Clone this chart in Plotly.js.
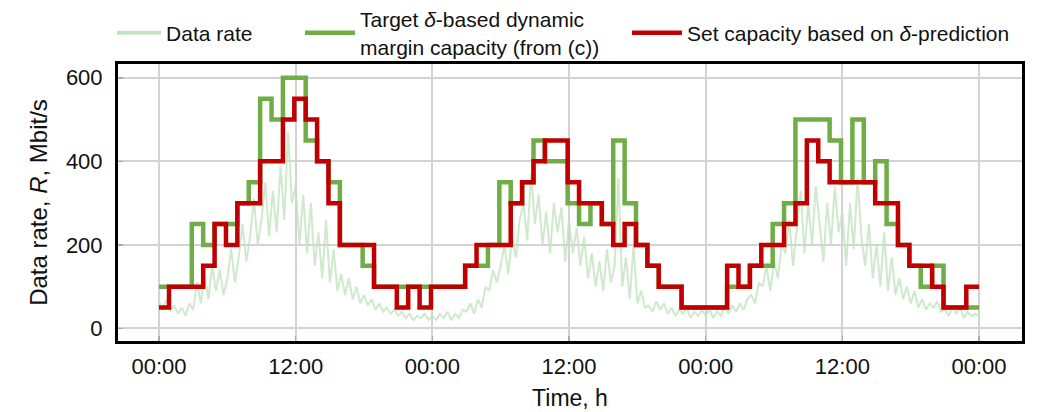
<!DOCTYPE html>
<html>
<head>
<meta charset="utf-8">
<script src="https://cdn.plot.ly/plotly-3.0.1.min.js"></script>
<style>html,body{margin:0;padding:0;background:#fff}#chart{width:1038px;height:412px}</style>
</head>
<body>
<div id="chart"></div>
<script>
// Hour index of each capacity step (72 hourly steps over 3 days)
const hours = [];
for (let h = 0; h < 72; h++) hours.push(h);

// Set capacity based on delta-prediction (Mbit/s), one value per hour
const setCapacity = [
  50,100,100,100,150,250,200,300,300,400,400,500,550,500,400,300,200,200,200,100,100,50,100,50,
  100,100,100,150,200,200,200,300,350,400,450,450,350,300,300,250,200,250,200,150,100,100,50,50,
  50,50,150,100,150,200,200,250,300,450,400,350,350,350,350,300,300,200,150,150,100,50,50,100
];

// Target delta-based dynamic margin capacity (Mbit/s), one value per hour
const targetCapacity = [
  100,100,100,250,200,250,250,300,350,550,500,600,600,450,400,350,200,200,150,100,100,100,100,100,
  100,100,100,150,150,200,350,300,350,450,400,400,300,250,300,250,450,300,200,150,100,100,50,50,
  50,50,100,100,150,150,250,300,500,500,500,450,350,500,350,400,250,200,150,100,150,50,50,50
];

// Measured data rate (Mbit/s), three samples per hour
const dataRate = [
  65,45,70, 40,55,35, 50,30,60, 45,110,60, 130,70,150, 90,140,80, 120,190,110, 170,250,160,
  220,310,200, 260,350,220, 330,230,390, 260,470,300, 340,200,320, 180,300,150, 230,120,260, 110,190,90,
  130,80,120, 70,100,60, 80,55,70, 45,60,40, 50,35,45, 30,40,25, 35,20,30, 25,35,20,
  30,20,35, 25,40,20, 35,25,45, 40,60,35, 70,50,100, 90,140,110, 150,200,130, 220,170,260,
  300,210,370, 250,320,200, 280,180,300, 230,290,160, 260,180,240, 150,220,120, 180,100,160, 90,190,110,
  150,360,100, 170,70,200, 60,90,50, 55,40,65, 45,60,35, 50,30,45, 35,50,25, 40,30,45,
  30,45,25, 40,30,50, 35,55,40, 60,45,70, 80,60,110, 100,150,90, 160,120,200, 180,260,150,
  240,330,180, 300,200,340, 250,160,300, 200,340,230, 280,150,300, 190,360,220, 150,250,120, 200,100,230,
  90,170,80, 120,70,100, 60,90,50, 70,45,60, 50,65,40, 45,30,55, 35,50,25, 40,30,35, 30
];
const samplesPerHour = 3;

const tickHours = [0, 12, 24, 36, 48, 60, 72];
const tickLabels = ["00:00", "12:00", "00:00", "12:00", "00:00", "12:00", "00:00"];

const legendNames = [
  "Data rate",
  "Target <i>δ</i>-based dynamic<br>margin capacity (from (c))",
  "Set capacity based on <i>δ</i>-prediction"
];

// step change times (the steps switch slightly before each full hour)
const stepOffset = 0.12;
const stepX = hours.map(h => h === 0 ? 0 : h - stepOffset).concat([72]);
const setY = setCapacity.concat([setCapacity[setCapacity.length - 1]]);
const tgtY = targetCapacity.concat([targetCapacity[targetCapacity.length - 1]]);
const rateX = dataRate.map((v, i) => i / samplesPerHour);

const rateColor = 'rgba(195,228,192,0.8)';
const traces = [
  {x: rateX, y: dataRate, type: 'scatter', mode: 'lines', name: legendNames[0], showlegend: false,
   line: {color: rateColor, width: 2}},
  // legend-only entry so the key sample is drawn thicker, as in the original
  {x: [null], y: [null], type: 'scatter', mode: 'lines', name: legendNames[0], legend: 'legend',
   line: {color: 'rgba(195,228,192,1)', width: 4}},
  {x: stepX, y: tgtY, type: 'scatter', mode: 'lines', name: legendNames[1], legend: 'legend2',
   line: {color: '#70ad47', width: 4.5, shape: 'hv'}},
  {x: stepX, y: setY, type: 'scatter', mode: 'lines', name: legendNames[2], legend: 'legend3',
   line: {color: '#c00000', width: 4.5, shape: 'hv'}}
];

const font = 'Liberation Sans, Arial, sans-serif';
const legFont = {family: font, size: 21, color: '#111'};
const legBase = {orientation: 'h', yanchor: 'middle', y: 1.112, xanchor: 'left',
                 font: legFont, itemwidth: 44, bgcolor: 'rgba(0,0,0,0)', valign: 'middle'};
const layout = {
  width: 1038, height: 412,
  margin: {l: 118, r: 16, t: 64, b: 71, autoexpand: false},
  paper_bgcolor: '#fff', plot_bgcolor: '#fff',
  font: {family: font, color: '#111', size: 22},
  showlegend: true,
  legend: Object.assign({}, legBase, {x: -0.0066}),
  legend2: Object.assign({}, legBase, {x: 0.2013, itemwidth: 50}),
  legend3: Object.assign({}, legBase, {x: 0.563, itemwidth: 50}),
  xaxis: {
    range: [-3.6, 75.77], tickvals: tickHours, ticktext: tickLabels,
    showgrid: true, gridcolor: '#d3d3d3', gridwidth: 2,
    ticks: 'inside', ticklen: 5, tickcolor: '#aaa', tickwidth: 1.5,
    showline: true, mirror: true, linecolor: '#000', linewidth: 3,
    zeroline: false, ticklabelstandoff: 4,
    tickfont: {family: font, size: 22, color: '#111'},
    title: {text: 'Time, h', font: {family: font, size: 23, color: '#111'}, standoff: 12}
  },
  yaxis: {
    range: [-30, 633], tickvals: [0, 200, 400, 600],
    showgrid: true, gridcolor: '#d3d3d3', gridwidth: 2,
    ticks: 'inside', ticklen: 5, tickcolor: '#aaa', tickwidth: 1.5,
    showline: true, mirror: true, linecolor: '#000', linewidth: 3,
    zeroline: false, ticklabelstandoff: 8,
    tickfont: {family: font, size: 22, color: '#111'},
    title: {text: 'Data rate, <i>R</i>, Mbit/s', font: {family: font, size: 24, color: '#111'}, standoff: 12}
  }
};

Plotly.newPlot('chart', traces, layout, {displayModeBar: false, staticPlot: true});
</script>
</body>
</html>
